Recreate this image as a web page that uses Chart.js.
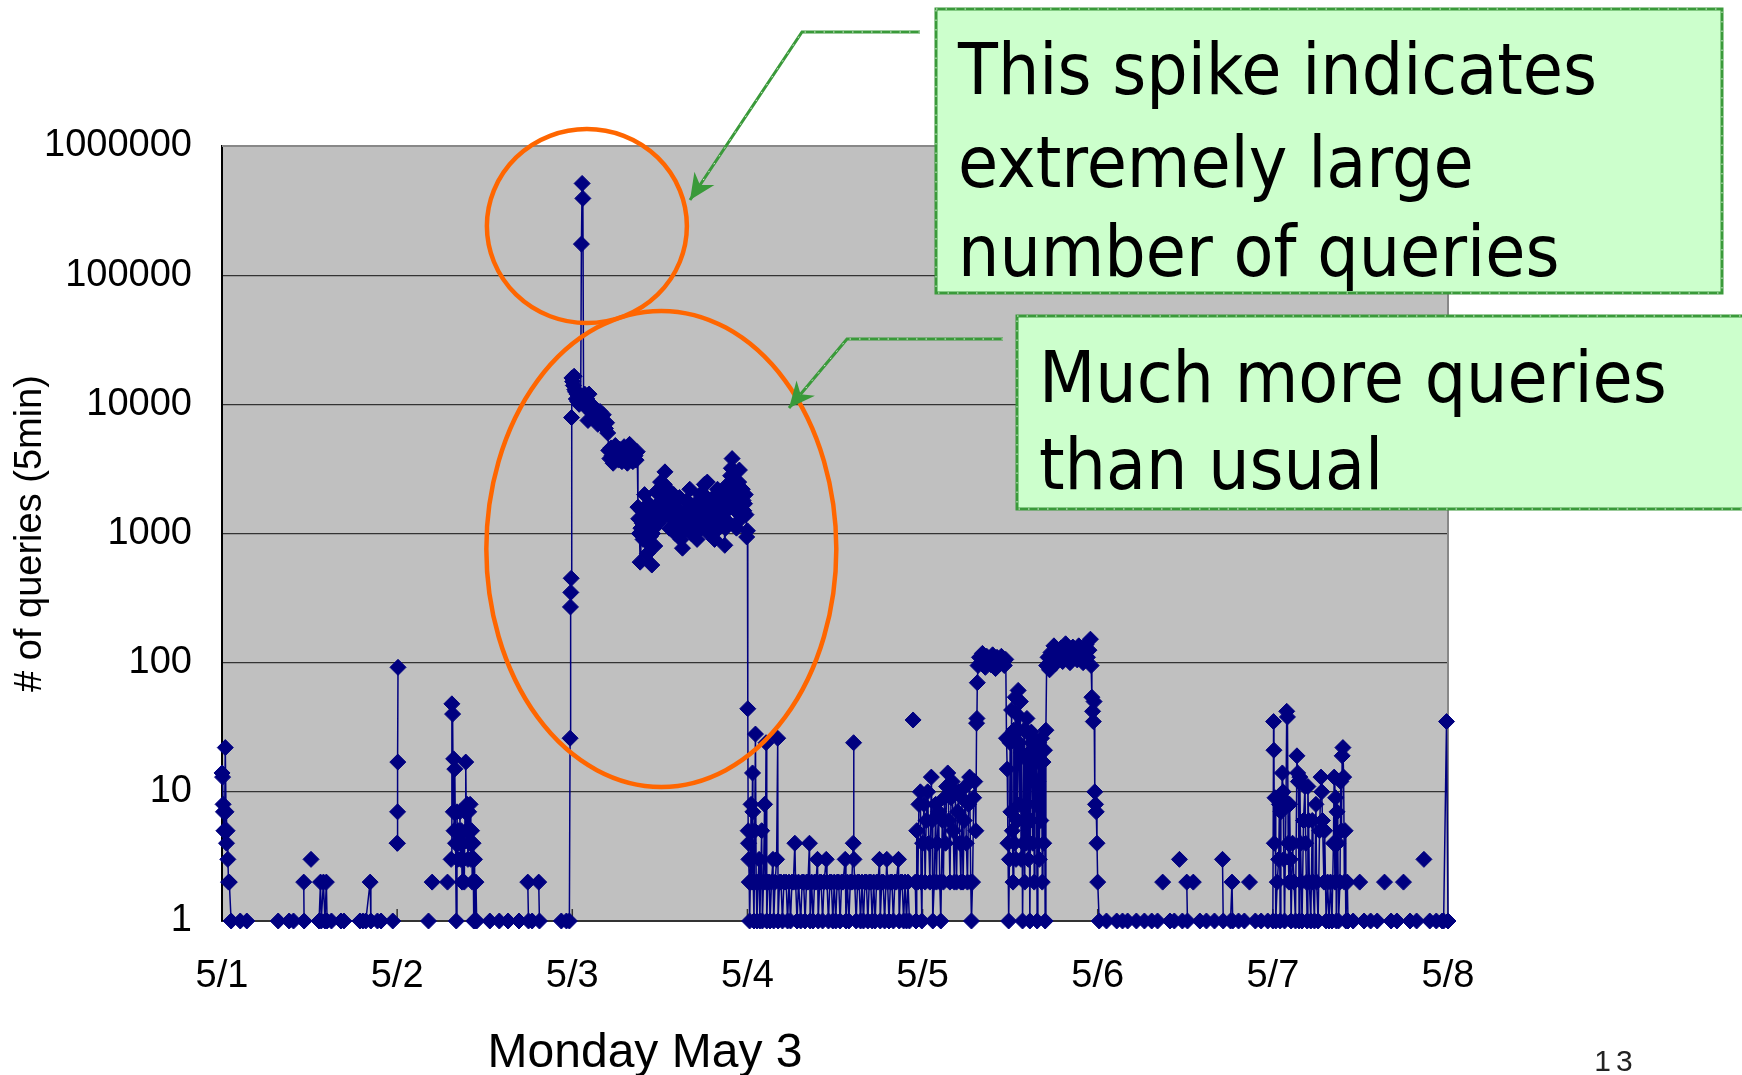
<!DOCTYPE html>
<html>
<head>
<meta charset="utf-8">
<title># of queries (5min), May 1 - May 8</title>
<script src="https://cdn.jsdelivr.net/npm/chart.js@4.4.1/dist/chart.umd.min.js"></script>
<style>
  html, body { margin: 0; padding: 0; background: #fff; }
  #wrap { position: relative; width: 1742px; height: 1075px; }
</style>
</head>
<body>
<div id="wrap"><canvas id="chart"></canvas></div>
<script>
// Axis ticks
const dayTicks = [0, 24, 48, 72, 96, 120, 144, 168];
const dayLabels = ['5/1', '5/2', '5/3', '5/4', '5/5', '5/6', '5/7', '5/8'];
const yTickValues = [1, 10, 100, 1000, 10000, 100000, 1000000];
const yTickLabels = ['1', '10', '100', '1000', '10000', '100000', '1000000'];

// Queries per 5 minutes, [hour since 5/1 00:00, count]; null = no data (gap)
const may1 = [
  [0.0, 14], [0.08, 13], [0.15, 8], [0.2, 7], [0.27, 5], [0.35, 5], [0.45, 22], [0.55, 7], [0.62, 4], [0.7, 5],
  [0.8, 3], [0.9, 2], [1.0, 2], [1.25, 1], [1.3, null], [2.5, 1], [2.6, null], [3.4, 1], [3.5, null],
  [7.7, 1], [7.8, null], [9.2, 1], [9.3, null], [9.8, 1], [9.9, null], [11.2, 2], [11.25, 1], [11.3, null],
  [12.2, 3], [12.3, null], [13.3, 1], [13.5, 2], [13.6, 1], [13.9, 2], [14.1, 1], [14.3, 2], [14.4, 1], [14.5, null],
  [15.0, 1], [15.1, null], [16.3, 1], [16.7, 1], [16.8, null], [18.9, 1], [19.3, 1], [19.7, 1], [20.3, 2], [20.4, 1],
  [20.5, null], [21.3, 1], [21.8, 1], [21.9, null], [23.4, 1], [23.5, null]
];
const may2 = [
  [24.0, 4], [24.03, 4], [24.06, 7], [24.09, 17], [24.12, 92], [24.2, null],
  [28.3, 1], [28.4, null], [28.8, 2], [28.9, null], [30.9, 2], [31.0, null],
  [31.4, 3], [31.5, 48], [31.6, 40], [31.7, 7], [31.75, 18], [31.8, 5], [31.9, 15], [32.0, 4], [32.1, 1], [32.2, 7],
  [32.3, 3], [32.4, 5], [32.5, 4], [32.6, 7], [32.7, 3], [32.8, 5], [32.9, 2], [33.0, 4], [33.1, 3], [33.2, 2],
  [33.3, 7], [33.4, 17], [33.5, 5], [33.6, 8], [33.7, 3], [33.8, 7], [33.9, 4], [34.0, 8], [34.1, 3], [34.2, 5],
  [34.3, 2], [34.4, 4], [34.5, 1], [34.6, 3], [34.7, 1], [34.8, 2], [34.9, 1], [35.0, null],
  [36.7, 1], [36.8, null], [38.0, 1], [38.1, null], [39.2, 1], [39.3, null], [40.7, 1], [40.8, null],
  [41.9, 2], [42.0, 1], [42.5, 1], [42.6, null], [43.4, 2], [43.5, 1], [43.6, null], [46.5, 1], [46.6, null], [47.2, 1]
];
const may3 = [
  [47.6, 1], [47.7, 26], [47.75, 270], [47.8, 350], [47.85, 450], [47.9, 7900], [47.95, 16000], [48.05, 15000],
  [48.15, 14000], [48.25, 16500], [48.35, 13000], [48.45, 12500], [48.55, 11000], [48.65, 12000], [48.75, 10500],
  [48.85, 11500], [48.95, 10000], [49.05, 11000], [49.15, 10500], [49.25, 174000], [49.35, 513000], [49.45, 393000],
  [49.55, 10500], [49.7, 12000], [49.85, 9500], [50.0, 11000], [50.15, 7500], [50.3, 12000], [50.45, 9000],
  [50.6, 10000], [50.75, 8500], [50.9, 9500], [51.05, 9000], [51.2, 7800], [51.35, 8500], [51.5, 7000], [51.65, 8000],
  [51.8, 8800], [51.95, 7500], [52.1, 7200], [52.25, 8300], [52.4, 7000], [52.55, 6500], [52.7, 7200], [52.85, 6000],
  [53.0, 4400], [53.15, 3800], [53.3, 4600], [53.45, 4000], [53.6, 3500], [53.75, 4200], [53.9, 4800], [54.05, 3900],
  [54.2, 4300], [54.35, 3700], [54.5, 4500], [54.65, 4000], [54.8, 3600], [54.95, 4400], [55.1, 4700], [55.25, 3800],
  [55.4, 4100], [55.55, 3500], [55.7, 4300], [55.85, 4900], [56.0, 3900], [56.15, 4200], [56.3, 3600], [56.45, 4400],
  [56.6, 4000], [56.75, 3700], [56.9, 4300], [57.0, 1600],
  [57.1, 1300], [57.2, 1000], [57.3, 600], [57.4, 1100], [57.5, 1500], [57.6, 1200], [57.7, 900], [57.8, 1400],
  [57.9, 2000], [58.0, 1600], [58.1, 1100], [58.2, 1300], [58.3, 700], [58.4, 1000], [58.5, 1700], [58.6, 1300],
  [58.7, 950], [58.8, 800], [58.9, 570], [59.0, 1000], [59.1, 1400], [59.2, 1100], [59.3, 800], [59.4, 1500],
  [59.5, 2100], [59.6, 1600], [59.7, 1200], [59.8, 1400], [59.9, 1700], [60.0, 2000], [60.1, 2500], [60.2, 1800],
  [60.3, 1300], [60.4, 1500], [60.5, 1900], [60.6, 2400], [60.7, 3000], [60.8, 2000], [60.9, 1500], [61.0, 1800],
  [61.1, 2200], [61.2, 1600], [61.3, 1100], [61.4, 1400], [61.5, 1800], [61.6, 1500], [61.7, 1300], [61.8, 1600],
  [61.9, 2000], [62.0, 1400], [62.1, 1000], [62.2, 1300], [62.3, 1600], [62.4, 1400], [62.5, 1200], [62.6, 1500],
  [62.7, 1900], [62.8, 1300], [62.9, 900], [63.0, 1000], [63.1, 770], [63.2, 1100], [63.3, 1400], [63.4, 1200],
  [63.5, 1100], [63.6, 1500], [63.7, 1800], [63.8, 1500], [63.9, 1300], [64.0, 1700], [64.1, 2200], [64.2, 1500],
  [64.3, 1000], [64.4, 1200], [64.5, 1500], [64.6, 1400], [64.7, 1200], [64.8, 1400], [64.9, 1700], [65.0, 1200],
  [65.1, 900], [65.2, 1100], [65.3, 1400], [65.4, 1700], [65.5, 2000], [65.6, 1500], [65.7, 1100], [65.8, 1300],
  [65.9, 1600], [66.0, 2000], [66.1, 2400], [66.2, 1800], [66.3, 1300], [66.4, 1900], [66.5, 2500], [66.6, 1500],
  [66.7, 1000], [66.8, 1400], [66.9, 1800], [67.0, 1500], [67.1, 1200], [67.2, 1500], [67.3, 1900], [67.4, 1300],
  [67.5, 900], [67.6, 1200], [67.7, 1500], [67.8, 1800], [67.9, 2200], [68.0, 1600], [68.1, 1100], [68.2, 1400],
  [68.3, 1700], [68.4, 1500], [68.5, 1300], [68.6, 1700], [68.7, 2000], [68.8, 1200], [68.9, 810], [69.0, 1100],
  [69.1, 1500], [69.2, 1900], [69.3, 2400], [69.4, 1700], [69.5, 1200], [69.6, 2000], [69.7, 2800], [69.8, 3200],
  [69.9, 3800], [70.0, 2200], [70.1, 1600], [70.2, 1900], [70.3, 2300], [70.4, 1500], [70.5, 1100], [70.6, 1500],
  [70.7, 1900], [70.8, 2500], [70.9, 3100], [71.0, 2000], [71.1, 1300], [71.2, 1700], [71.3, 2200], [71.4, 1800],
  [71.5, 1500], [71.6, 1700], [71.7, 2000], [71.8, 1400], [71.9, 940], [72.0, 1050]
];
const may4 = [
  [72.05, 44], [72.1, 5], [72.15, 4], [72.2, 3], [72.25, 2], [72.3, 1], [72.4, 2], [72.5, 8], [72.55, 3], [72.6, 2],
  [72.7, 14], [72.75, 7], [72.8, 2], [72.9, 1], [73.0, 5], [73.1, 28], [73.2, 2], [73.3, 1], [73.45, 2], [73.6, 3],
  [73.7, 1], [73.8, 2], [73.95, 5], [74.05, 1], [74.2, 2], [74.35, 8], [74.45, 2], [74.55, 24], [74.65, 1], [74.8, 2],
  [75.0, 2], [75.1, 1], [75.3, 2], [75.5, 3], [75.6, 1], [75.8, 2], [76.0, 3], [76.15, 26], [76.2, 1], [76.4, 2],
  [76.6, 2], [76.8, 1], [77.0, 2], [77.3, 2], [77.5, 1], [77.7, 2], [77.9, 1], [78.1, 2], [78.3, 2], [78.5, 4],
  [78.6, 2], [78.8, 1], [79.0, 2], [79.3, 1], [79.5, 2], [79.7, 2], [79.9, 1], [80.1, 2], [80.3, 2], [80.5, 4],
  [80.6, 1], [80.8, 2], [81.0, 1], [81.2, 2], [81.4, 2], [81.6, 3], [81.7, 1], [81.9, 2], [82.1, 2], [82.3, 1],
  [82.5, 2], [82.8, 3], [82.9, 2], [83.1, 1], [83.3, 2], [83.5, 2], [83.7, 1], [83.9, 2], [84.1, 1], [84.3, 2],
  [84.5, 2], [84.7, 1], [84.9, 2], [85.1, 2], [85.4, 3], [85.5, 1], [85.7, 2], [85.9, 1], [86.1, 2], [86.3, 2],
  [86.5, 4], [86.55, 24], [86.6, 3], [86.7, 2], [86.9, 1], [87.1, 2], [87.3, 2], [87.5, 1], [87.7, 2], [87.9, 1],
  [88.1, 2], [88.3, 2], [88.5, 1], [88.7, 2], [88.9, 2], [89.1, 1], [89.3, 2], [89.5, 1], [89.7, 2], [89.9, 2],
  [90.1, 3], [90.2, 1], [90.4, 2], [90.6, 2], [90.8, 1], [91.1, 3], [91.2, 2], [91.4, 1], [91.6, 2], [91.8, 2],
  [92.0, 1], [92.2, 2], [92.4, 2], [92.7, 3], [92.8, 1], [93.0, 2], [93.2, 2], [93.4, 1], [93.6, 2], [93.8, 1],
  [94.0, 2], [94.2, 1], [94.3, null], [94.7, 36], [94.8, null], [95.0, 2], [95.1, 1]
];
const may5 = [
  [95.2, 5], [95.35, 2], [95.5, 8], [95.7, 10], [95.8, 2], [95.9, 1], [96.0, 4], [96.2, 8], [96.35, 2], [96.5, 6],
  [96.7, 10], [96.85, 4], [97.0, 2], [97.2, 13], [97.3, 6], [97.4, 1], [97.6, 2], [97.8, 8], [97.9, 2], [98.0, 4],
  [98.2, 7], [98.35, 2], [98.5, 1], [98.7, 6], [98.85, 2], [99.0, 9], [99.15, 4], [99.3, 11], [99.45, 14], [99.6, 6],
  [99.75, 2], [99.9, 9], [100.05, 12], [100.2, 5], [100.35, 2], [100.5, 10], [100.65, 2], [100.8, 7], [100.95, 10],
  [101.1, 4], [101.25, 2], [101.4, 9], [101.55, 2], [101.7, 6], [101.85, 11], [102.0, 4], [102.15, 2], [102.3, 8],
  [102.45, 13], [102.6, 2], [102.7, 1], [102.85, 2], [103.0, 9], [103.15, 12], [103.3, 5], [103.4, 34], [103.45, 37],
  [103.5, 70], [103.6, 95], [103.8, 110], [104.0, 100], [104.2, 118], [104.4, 105], [104.6, 92], [104.8, 112],
  [105.0, 100], [105.2, 108], [105.4, 96], [105.6, 115], [105.8, 102], [106.0, 90], [106.2, 110], [106.4, 104],
  [106.6, 98], [106.8, 112], [107.0, 100], [107.2, 95], [107.4, 106], [107.5, 26],
  [107.6, 15], [107.7, 4], [107.8, 1], [107.9, 3], [108.0, 24], [108.1, 7], [108.2, 43], [108.3, 5], [108.4, 2],
  [108.5, 30], [108.6, 4], [108.7, 54], [108.8, 3], [108.9, 40], [109.0, 6], [109.1, 61], [109.2, 24], [109.3, 8],
  [109.4, 50], [109.5, 3], [109.6, 20], [109.7, 1], [109.8, 4], [109.9, 30], [110.0, 2], [110.1, 18], [110.2, 4],
  [110.3, 37], [110.4, 29], [110.5, 3], [110.6, 20], [110.7, 1], [110.8, 6], [110.9, 29], [111.0, 24], [111.1, 4],
  [111.2, 26], [111.3, 2], [111.4, 21], [111.5, 8], [111.6, 17], [111.7, 1], [111.8, 12], [111.9, 24], [112.0, 3],
  [112.1, 20], [112.2, 6], [112.3, 26], [112.4, 2], [112.5, 17], [112.6, 4], [112.7, 21], [112.8, 1], [112.9, 30],
  [113.0, 95], [113.2, 110], [113.4, 88], [113.6, 120], [113.8, 105], [114.0, 135], [114.2, 98], [114.4, 115],
  [114.6, 125], [114.8, 108], [115.0, 130], [115.2, 102], [115.4, 118], [115.6, 140], [115.8, 112], [116.0, 125],
  [116.2, 100], [116.4, 120], [116.6, 132], [116.8, 110], [117.0, 122], [117.2, 105], [117.4, 135], [117.6, 115],
  [117.8, 128], [118.0, 100], [118.2, 120], [118.4, 138], [118.6, 110], [118.8, 125], [119.0, 152], [119.1, 95],
  [119.2, 54], [119.3, 42], [119.4, 35], [119.5, 50], [119.6, 10], [119.7, 8], [119.8, 7], [119.9, 4], [120.0, 2],
  [120.2, 1], [120.3, null]
];
const may6 = [
  [121.2, 1], [121.3, null], [122.6, 1], [122.7, null], [123.4, 1], [123.5, null], [124.1, 1], [124.2, null],
  [125.3, 1], [125.4, null], [126.4, 1], [126.5, null], [127.4, 1], [127.5, null], [128.2, 1], [128.3, null],
  [128.9, 2], [129.0, null], [129.9, 1], [130.0, null], [130.5, 1], [130.6, null], [131.2, 3], [131.3, null],
  [131.6, 1], [131.7, null], [132.2, 2], [132.3, 1], [132.4, null], [133.1, 2], [133.2, null], [134.0, 1], [134.1, null],
  [134.9, 1], [135.0, null], [136.0, 1], [136.1, null], [137.1, 3], [137.2, 1], [137.3, null], [138.2, 1], [138.4, 2],
  [138.5, 1], [138.6, null], [139.3, 1], [139.4, null], [140.1, 1], [140.2, null], [140.8, 2], [140.9, null],
  [141.6, 1], [141.7, null], [142.4, 1], [142.5, null], [143.3, 1], [143.4, null]
];
const may7 = [
  [144.0, 1], [144.1, 35], [144.15, 21], [144.2, 4], [144.3, 9], [144.4, 1], [144.6, 2], [144.8, 3], [144.9, 8],
  [145.0, 1], [145.1, 7], [145.2, 9], [145.3, 14], [145.4, 10], [145.5, 3], [145.6, 1], [145.8, 8], [145.9, 42],
  [146.0, 38], [146.1, 4], [146.2, 2], [146.3, 8], [146.4, 3], [146.5, 1], [146.7, 4], [146.9, 2], [147.1, 1],
  [147.3, 19], [147.4, 14], [147.5, 12], [147.6, 1], [147.7, 13], [147.8, 4], [147.9, 2], [148.0, 1], [148.2, 6],
  [148.4, 11], [148.5, 4], [148.6, 2], [148.7, 1], [148.8, 11], [148.9, 6], [149.0, 2], [149.2, 1], [149.4, 6],
  [149.5, 2], [149.7, 1], [149.9, 8], [150.0, 2], [150.2, 1], [150.4, 5], [150.6, 13], [150.7, 10], [150.8, 6],
  [151.0, 2], [151.1, 5], [151.3, 1], [151.5, 2], [151.7, 1], [151.9, 2], [152.1, 1], [152.3, 4], [152.4, 13],
  [152.5, 2], [152.6, 9], [152.7, 1], [152.8, 7], [152.9, 4], [153.0, 1], [153.2, 2], [153.3, 12], [153.4, 5],
  [153.5, 19], [153.6, 22], [153.7, 13], [153.8, 2], [153.9, 5], [154.0, 1], [154.2, 2], [154.3, 1], [154.4, null],
  [155.0, 1], [155.1, null], [155.9, 2], [156.0, null], [156.5, 1], [156.6, null], [157.4, 1], [157.5, null],
  [158.3, 1], [158.4, null], [159.3, 2], [159.4, null], [160.2, 1], [160.3, null], [161.0, 1], [161.1, null],
  [161.9, 2], [162.0, null], [162.8, 1], [162.9, null], [163.7, 1], [163.8, null], [164.7, 3], [164.8, null],
  [165.5, 1], [165.6, null], [166.4, 1], [166.5, null], [167.2, 1], [167.4, 1], [167.8, 35], [168.0, 1]
];

const GREEN = '#3a9a3a';
const ORANGE = '#ff6600';

function dottedBorder(ctx) {
  ctx.save();
  ctx.setLineDash([1.5, 8]);
  ctx.strokeStyle = 'rgba(255,255,255,0.85)';
  ctx.lineWidth = 1;
  ctx.stroke();
  ctx.restore();
}

function drawArrow(ctx, pts) {
  ctx.save();
  ctx.strokeStyle = GREEN;
  ctx.fillStyle = GREEN;
  ctx.lineWidth = 3;
  ctx.beginPath();
  ctx.moveTo(pts[0][0], pts[0][1]);
  for (let i = 1; i < pts.length; i++) ctx.lineTo(pts[i][0], pts[i][1]);
  ctx.stroke();
  dottedBorder(ctx);
  // arrow head at the last point
  const [tx, ty] = pts[pts.length - 1];
  const [px, py] = pts[pts.length - 2];
  const a = Math.atan2(ty - py, tx - px);
  ctx.translate(tx, ty);
  ctx.rotate(a);
  ctx.beginPath();
  ctx.moveTo(0, 0);
  ctx.lineTo(-26, -12);
  ctx.lineTo(-18, 0);
  ctx.lineTo(-26, 12);
  ctx.closePath();
  ctx.fill();
  ctx.restore();
}

function drawNote(ctx, box, lines, baselines, scaleX) {
  ctx.save();
  ctx.beginPath();
  ctx.rect(box[0], box[1], box[2], box[3]);
  ctx.fillStyle = '#ccffcc';
  ctx.fill();
  ctx.strokeStyle = GREEN;
  ctx.lineWidth = 3;
  ctx.stroke();
  dottedBorder(ctx);
  ctx.fillStyle = '#000';
  ctx.font = '72px "DejaVu Sans"';
  ctx.textBaseline = 'alphabetic';
  lines.forEach((t, i) => {
    ctx.save();
    ctx.translate(box[0] + 22, baselines[i]);
    ctx.scale(scaleX, 1);
    ctx.fillText(t, 0, 0);
    ctx.restore();
  });
  ctx.restore();
}

const slidePlugin = {
  id: 'slide',
  beforeDraw(chart) {
    const { ctx, chartArea: a } = chart;
    ctx.save();
    ctx.fillStyle = '#c0c0c0';
    ctx.fillRect(a.left, a.top, a.right - a.left, a.bottom - a.top);
    ctx.restore();
  },
  beforeDatasetsDraw(chart) {
    const { ctx, chartArea: a, scales: { x } } = chart;
    ctx.save();
    // plot frame, top and right
    ctx.strokeStyle = '#888';
    ctx.lineWidth = 2;
    ctx.beginPath();
    ctx.moveTo(a.left, a.top);
    ctx.lineTo(a.right, a.top);
    ctx.lineTo(a.right, a.bottom);
    ctx.stroke();
    // inside tick marks on the time axis
    ctx.strokeStyle = '#333';
    ctx.lineWidth = 1.5;
    dayTicks.slice(1, -1).forEach(d => {
      const px = x.getPixelForValue(d);
      ctx.beginPath();
      ctx.moveTo(px, a.bottom);
      ctx.lineTo(px, a.bottom - 12);
      ctx.stroke();
    });
    ctx.restore();
  },
  afterDraw(chart) {
    const { ctx, scales: { x, y } } = chart;
    ctx.save();
    // orange rings
    ctx.strokeStyle = ORANGE;
    ctx.lineWidth = 4.5;
    ctx.beginPath();
    ctx.ellipse(x.getPixelForValue(50), y.getPixelForValue(240000), 100, 97, 0, 0, Math.PI * 2);
    ctx.stroke();
    ctx.beginPath();
    ctx.ellipse(x.getPixelForValue(60.2), y.getPixelForValue(760), 175, 238, 0, 0, Math.PI * 2);
    ctx.stroke();

    // callouts
    drawArrow(ctx, [[920, 32], [802, 32], [690, 200]]);
    drawArrow(ctx, [[1003, 339], [847, 339], [789, 408]]);

    ctx.font = '72px "DejaVu Sans"';
    const sx = 639 / ctx.measureText('This spike indicates').width;
    drawNote(ctx, [936, 9, 786, 284],
      ['This spike indicates', 'extremely large', 'number of queries'], [94, 187, 276], sx);
    drawNote(ctx, [1017, 316, 760, 193],
      ['Much more queries', 'than usual'], [402, 489], sx);

    // axis caption and page number
    ctx.fillStyle = '#000';
    ctx.font = '48px "Liberation Sans", Arial, sans-serif';
    ctx.textAlign = 'center';
    ctx.textBaseline = 'alphabetic';
    ctx.fillText('Monday May 3', 645, 1067);
    ctx.fillStyle = '#222';
    ctx.font = '30px "Liberation Sans", Arial, sans-serif';
    ctx.letterSpacing = '5px';
    ctx.fillText('13', 1616, 1071);
    ctx.restore();
  }
};

const tickFont = { family: '"Liberation Sans", Arial, sans-serif', size: 38 };

new Chart(document.getElementById('chart'), {
  type: 'line',
  data: {
    datasets: [{
      data: [...may1, ...may2, ...may3, ...may4, ...may5, ...may6, ...may7],
      borderColor: '#000080',
      backgroundColor: '#000080',
      borderWidth: 1.5,
      pointStyle: 'rectRot',
      pointRadius: 8,
      pointHoverRadius: 8,
      pointBorderWidth: 1,
      tension: 0,
      fill: false,
      spanGaps: false,
      clip: false
    }]
  },
  options: {
    responsive: true,
    maintainAspectRatio: false,
    animation: false,
    events: [],
    layout: { padding: { top: 146, right: 294, bottom: 0, left: 0 } },
    plugins: { legend: { display: false }, tooltip: { enabled: false } },
    scales: {
      x: {
        type: 'linear',
        min: 0,
        max: 168,
        afterBuildTicks: s => { s.ticks = dayTicks.map(v => ({ value: v })); },
        afterFit: s => { s.height = 154; },
        ticks: {
          callback: (v, i) => dayLabels[i],
          autoSkip: false,
          maxRotation: 0,
          padding: 33,
          color: '#000',
          font: tickFont
        },
        grid: { display: false, drawTicks: false },
        border: { display: true, color: '#333', width: 2 }
      },
      y: {
        type: 'logarithmic',
        min: 1,
        max: 1000000,
        afterBuildTicks: s => { s.ticks = yTickValues.map(v => ({ value: v })); },
        afterFit: s => { s.width = 222; },
        ticks: {
          callback: (v, i) => yTickLabels[i],
          autoSkip: false,
          padding: 30,
          color: '#000',
          font: tickFont
        },
        grid: {
          drawTicks: false,
          lineWidth: 1.2,
          color: c => (c.tick && c.tick.value === 1000000 ? '#888' : '#333')
        },
        border: { display: true, color: '#000', width: 2 },
        title: {
          display: true,
          text: '# of queries (5min)',
          color: '#000',
          font: { family: '"Liberation Sans", Arial, sans-serif', size: 38 },
          padding: { top: 8, bottom: 0 }
        }
      }
    }
  },
  plugins: [slidePlugin]
});
</script>
</body>
</html>
